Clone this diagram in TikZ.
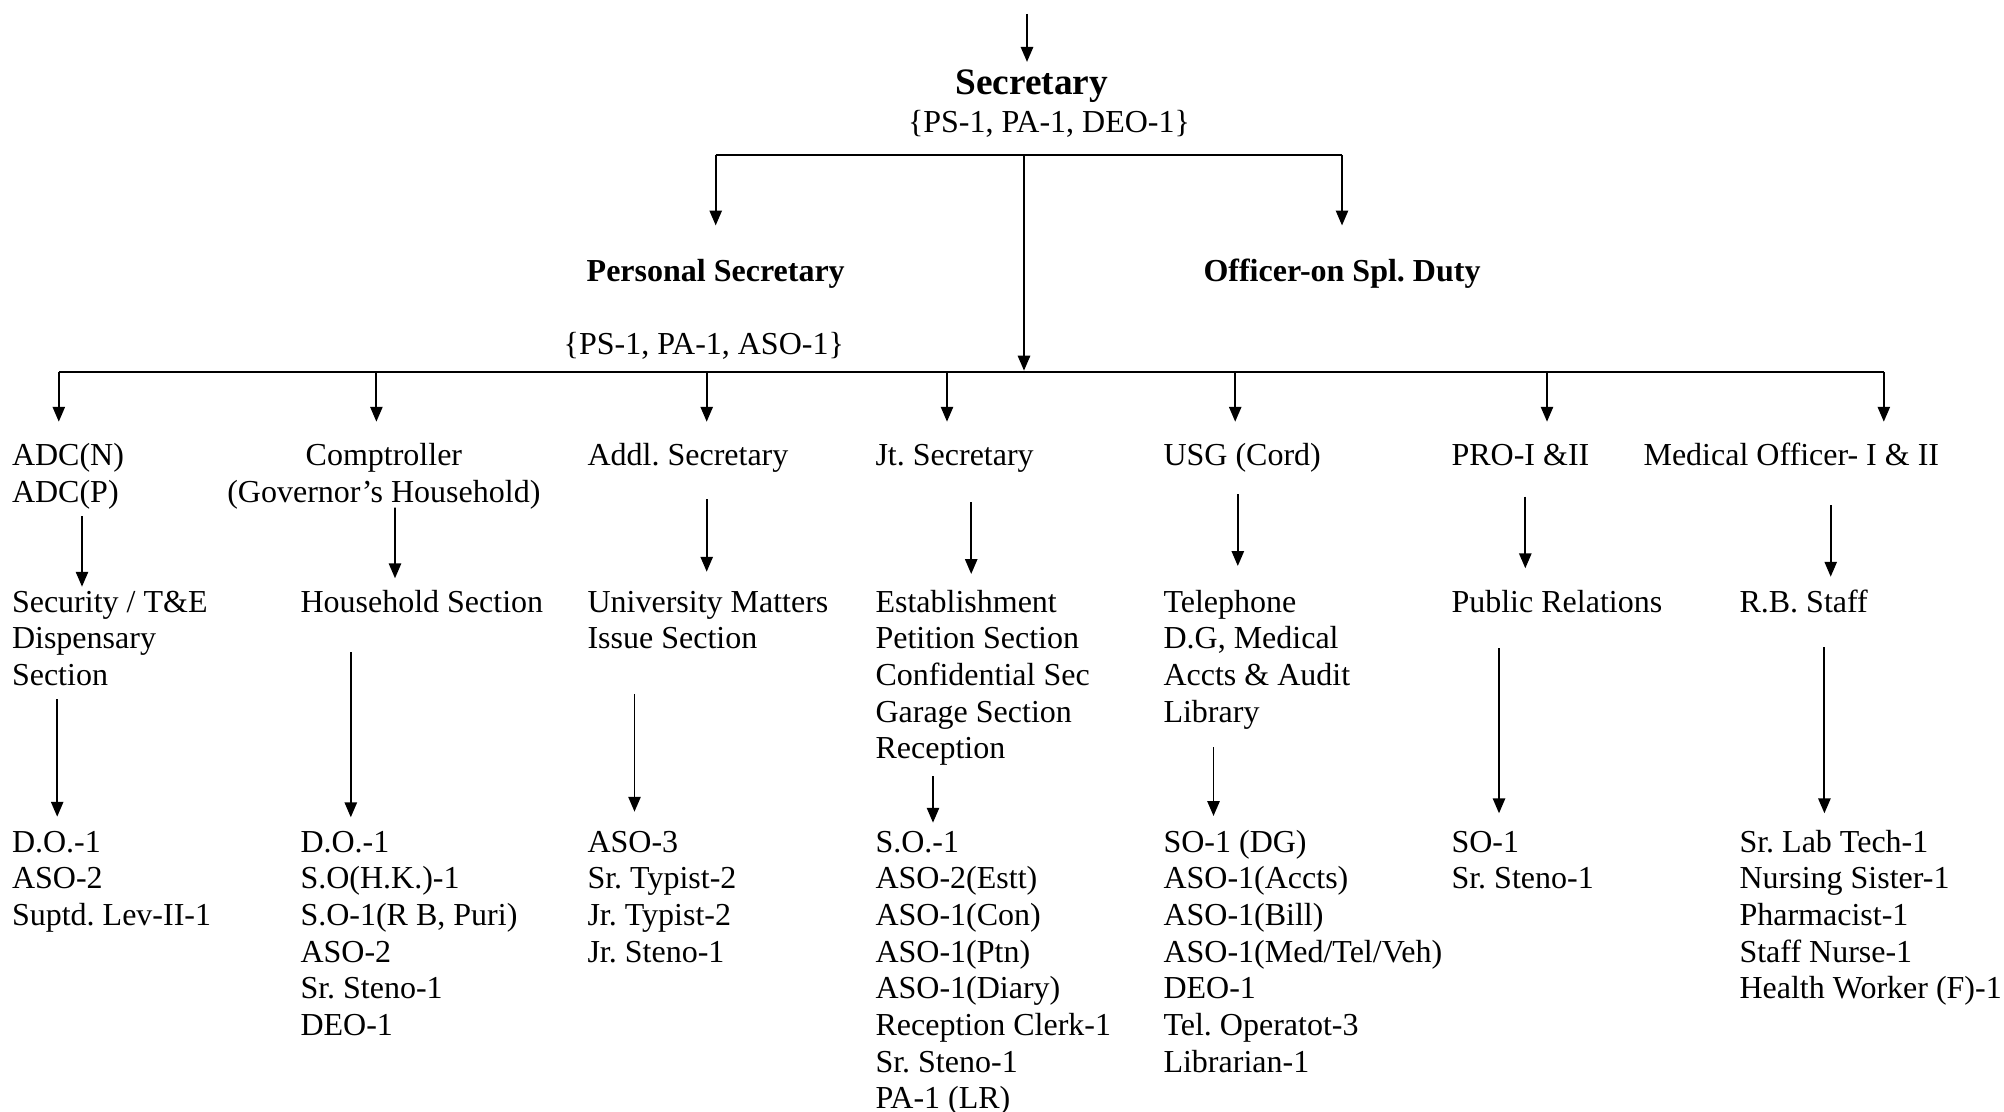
\documentclass[tikz,border=0pt]{standalone}
\usepackage{fontspec}
\setmainfont{Liberation Serif}
\usetikzlibrary{arrows.meta,calc}
\frenchspacing

\begin{document}
\begin{tikzpicture}[
    x=0.375pt, y=-0.375pt,
    txt/.style={anchor=north west, inner sep=0pt, align=left, font=\fontsize{12}{13.75}\selectfont,
        execute at begin node=\strut, execute at end node=\strut},
    head/.style={anchor=base, inner sep=0pt, font=\fontsize{12}{13.75}\selectfont\bfseries, execute at begin node=\strut},
    arr/.style={-{Triangle[length=5.6pt, width=4.6pt]}, line width=0.7pt},
    bar/.style={line width=1.1pt}
]
    \useasboundingbox (0,0) rectangle (2004,1112);

    % top of the chart
    \coordinate (top) at (1027,14);
    \node[head, font=\fontsize{14}{16}\selectfont\bfseries] (sec) at (1031.7,95) {Secretary};
    \node[head, font=\fontsize{12}{13.75}\selectfont] (secstaff) at (1049,133) {\{PS-1, PA-1, DEO-1\}};
    \node[head] (ps) at (715.7,281) {Personal Secretary};
    \node[head] (osd) at (1342,281) {Officer-on Spl. Duty};
    \node[head, font=\fontsize{12}{13.75}\selectfont] (psstaff) at (703.8,355) {\{PS-1, PA-1, ASO-1\}};
    \coordinate (secbar) at (1024,155);
    \coordinate (bus) at (1024,372);

    % officers
    \node[txt] (adc) at (11.5,439.3) {\strut ADC(N)\\ADC(P)};
    \node[txt, align=center] (compt) at (226.8,439.3) {\strut Comptroller\\(Governor's Household)};
    \node[txt] (addl) at (587,439.3) {Addl. Secretary};
    \node[txt] (jt) at (875,439.3) {Jt. Secretary};
    \node[txt] (usg) at (1163,439.3) {USG (Cord)};
    \node[txt] (pro) at (1451,439.3) {PRO-I \&II};
    \node[txt] (med) at (1643,439.3) {Medical Officer- I \& II};

    % sections
    \node[txt] (secu) at (11.5,586) {\strut Security / T\&E\\Dispensary\\Section};
    \node[txt] (hh) at (300,586) {Household Section};
    \node[txt] (univ) at (587,586) {\strut University Matters\\Issue Section};
    \node[txt] (estt) at (875,586) {\strut Establishment\\Petition Section\\Confidential Sec\\Garage Section\\Reception};
    \node[txt] (tel) at (1163,586) {\strut Telephone\\D.G, Medical\\Accts \& Audit\\Library};
    \node[txt] (pr) at (1451,586) {Public Relations};
    \node[txt] (rb) at (1739,586) {R.B. Staff};

    % staff
    \node[txt] (adcst) at (11.5,826) {\strut D.O.-1\\ASO-2\\Suptd. Lev-II-1};
    \node[txt] (hhst) at (300,826) {\strut D.O.-1\\S.O(H.K.)-1\\S.O-1(R B, Puri)\\ASO-2\\Sr. Steno-1\\DEO-1};
    \node[txt] (addlst) at (587,826) {\strut ASO-3\\Sr. Typist-2\\Jr. Typist-2\\Jr. Steno-1};
    \node[txt] (jtst) at (875,826) {\strut S.O.-1\\ASO-2(Estt)\\ASO-1(Con)\\ASO-1(Ptn)\\ASO-1(Diary)\\Reception Clerk-1\\Sr. Steno-1\\PA-1 (LR)};
    \node[txt] (usgst) at (1163,826) {\strut SO-1 (DG)\\ASO-1(Accts)\\ASO-1(Bill)\\ASO-1(Med/Tel/Veh)\\DEO-1\\Tel. Operatot-3\\Librarian-1};
    \node[txt] (prost) at (1451,826) {\strut SO-1\\Sr. Steno-1};
    \node[txt] (medst) at (1739,826) {\strut Sr. Lab Tech-1\\Nursing Sister-1\\Pharmacist-1\\Staff Nurse-1\\Health Worker (F)-1};

    % connectors
    \draw[arr, shorten >=1pt] (top) -- (top |- sec.north);
    \draw[bar] (secbar -| ps) -- (secbar -| osd);
    \draw[arr, shorten >=11pt] (secbar -| ps) -- (ps);
    \draw[arr, shorten >=11pt] (secbar -| osd) -- (osd);
    \draw[arr, shorten >=0.5pt] (secbar) -- (bus);
    \draw[bar] ($(adc.north west)+(47.3,-67.3)$) -- ($(med.north west)+(240.8,-67.3)$);
    \foreach \n/\dx in {adc/47.3, compt/149.6, addl/119.7, jt/72, usg/72.2, pro/96, med/240.8}
        \draw[arr] ($(\n.north west)+(\dx,-67.3)$) -- ++(0,49.7);

    \draw[arr] ($(adc.south west)+(70.5,2.3)$) -- ($(secu.north west)+(70.5,0.7)$);
    \draw[arr] ($(compt.south west)+(168.2,-6)$) -- ($(hh.north west)+(95,-7.7)$);
    \draw[arr] ($(addl.south west)+(119.7,22.3)$) -- ($(univ.north west)+(119.7,-14.3)$);
    \draw[arr] ($(jt.south west)+(96.2,25)$) -- ($(estt.north west)+(96.2,-12)$);
    \draw[arr] ($(usg.south west)+(74.8,17.3)$) -- ($(tel.north west)+(74.8,-20)$);
    \draw[arr] ($(pro.south west)+(74.3,19.7)$) -- ($(pr.north west)+(74.3,-17.7)$);
    \draw[arr] ($(med.south west)+(187.7,28)$) -- ($(rb.north west)+(91.7,-9.3)$);

    \draw[arr] ($(secu.south west)+(45.7,2)$) -- ($(adcst.north west)+(45.7,-9.3)$);
    \draw[arr] ($(hh.south west)+(50.8,28.3)$) -- ($(hhst.north west)+(50.8,-8.7)$);
    \draw[arr] ($(univ.south west)+(47.5,33.4)$) -- ($(addlst.north west)+(47.5,-14.3)$);
    \draw[arr] ($(estt.south west)+(58,5.6)$) -- ($(jtst.north west)+(58,-3.3)$);
    \draw[arr] ($(tel.south west)+(50.5,13.3)$) -- ($(usgst.north west)+(50.5,-10)$);
    \draw[arr] ($(pr.south west)+(48,24.6)$) -- ($(prost.north west)+(48,-12.7)$);
    \draw[arr] ($(rb.south west)+(85.4,23.3)$) -- ($(medst.north west)+(85.4,-12.7)$);
\end{tikzpicture}
\end{document}
